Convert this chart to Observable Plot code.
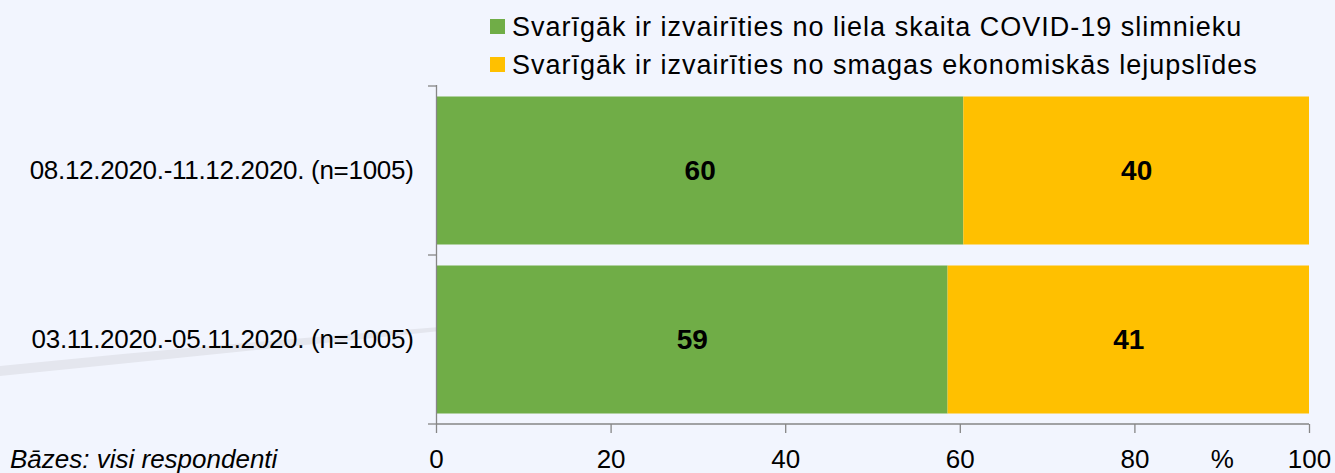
<!DOCTYPE html>
<html><head><meta charset="utf-8">
<script src="https://cdn.jsdelivr.net/npm/d3@7"></script>
<script src="https://cdn.jsdelivr.net/npm/@observablehq/plot@0.6"></script>
<style>
html,body{margin:0;padding:0;background:#f2f5fe;}
#wrap{position:relative;width:1335px;height:473px;overflow:hidden;background:#f2f5fe;font-family:"Liberation Sans",Arial,sans-serif;}
#deco{position:absolute;left:0;top:0;z-index:0;}
#legend{position:relative;display:block;z-index:1;}
#chart{position:relative;z-index:1;}
#chart svg{display:block;}
#foot{position:absolute;left:10px;top:446px;font-style:italic;font-size:26px;line-height:26px;white-space:nowrap;color:#000;z-index:2;}
</style>
</head><body>
<div id="wrap">
<svg id="deco" width="1335" height="473"><path d="M0,366 Q220,344 440,327 L440,331 Q220,354 0,376 Z" fill="#e4e6ee"/></svg>
<svg id="legend" width="1335" height="84"></svg>
<div id="chart"></div>
<div id="foot"></div>
</div>
<script>
// ---- data ----
const periods = ["08.12.2020.-11.12.2020. (n=1005)", "03.11.2020.-05.11.2020. (n=1005)"];
const seriesNames = [
  "Svarīgāk ir izvairīties no liela skaita COVID-19 slimnieku",
  "Svarīgāk ir izvairīties no smagas ekonomiskās lejupslīdes"
];
const covidValues = [60.4, 58.6];
const economyValues = [39.6, 41.4];
const seriesColors = ["#70AD47", "#FFC000"];
const xTicks = [0, 20, 40, 60, 80, 100];
const unitLabel = "%";
const unitAt = 90;
const footnote = "Bāzes: visi respondenti";

// ---- table ----
const rows = [];
periods.forEach((p, i) => {
  rows.push({period: p, series: seriesNames[0], value: covidValues[i]});
  rows.push({period: p, series: seriesNames[1], value: economyValues[i]});
});

const FONT = '"Liberation Sans", Arial, sans-serif';
const AXIS = "#868686";

const plot = Plot.plot({
  width: 1335,
  height: 389,
  marginTop: 1,
  marginBottom: 49,
  marginLeft: 436,
  marginRight: 26,
  style: {background: "transparent", color: "#000", fontFamily: FONT, overflow: "visible"},
  x: {domain: [0, 100], axis: null, label: null},
  y: {domain: periods, padding: 0, axis: null, label: null},
  color: {domain: seriesNames, range: seriesColors},
  marks: [
    Plot.barX(rows, Plot.stackX({x: "value", y: "period", fill: "series", z: "series", insetTop: 10.5, insetBottom: 10.5})),
    Plot.text(rows, Plot.stackX({x: "value", y: "period", z: "series", text: d => String(Math.round(d.value)), fontSize: 28, fontWeight: "bold", fill: "#000"})),
    Plot.ruleX([0], {stroke: AXIS, strokeWidth: 1.3}),
    Plot.axisX({ticks: xTicks, tickSize: 9, tickFormat: () => "", label: null, stroke: AXIS, strokeWidth: 1.3}),
    Plot.axisX({ticks: [...xTicks, unitAt], tickSize: 0, tickPadding: 25, fontSize: 26, fill: "#000", label: null,
      tickFormat: d => d === unitAt ? unitLabel : String(d)}),
    Plot.axisY({tickSize: 0, tickPadding: 23, fontSize: 26, fill: "#000", label: null})
  ]
});
document.getElementById("chart").appendChild(plot);

// axis line along bottom and category boundary ticks, using the plot's own scales
const sx = plot.scale("x"), sy = plot.scale("y");
const svg = d3.select(plot);
const yEdges = periods.map(p => sy.apply(p)).concat([sy.apply(periods[periods.length - 1]) + sy.bandwidth]);
const yBottom = yEdges[yEdges.length - 1];
svg.append("line").attr("x1", sx.apply(0)).attr("x2", sx.apply(100))
  .attr("y1", yBottom).attr("y2", yBottom).attr("stroke", AXIS).attr("stroke-width", 1.3);
svg.append("g").selectAll("line").data(yEdges).join("line")
  .attr("x1", sx.apply(0) - 8).attr("x2", sx.apply(0)).attr("y1", d => d).attr("y2", d => d)
  .attr("stroke", AXIS).attr("stroke-width", 1.3);
svg.selectAll("g[aria-label='y-axis tick label'] text").style("letter-spacing", "-0.3px");

// legend
const lg = d3.select("#legend");
seriesNames.forEach((name, i) => {
  const base = 36 + i * 38;
  lg.append("rect").attr("x", 490).attr("y", base - 17).attr("width", 15).attr("height", 15).attr("fill", seriesColors[i]);
  lg.append("text").attr("x", 512).attr("y", base).attr("font-family", FONT).attr("font-size", 27)
    .attr("letter-spacing", "1px").attr("fill", "#000").text(name);
});

document.getElementById("foot").textContent = footnote;
</script>
</body></html>
